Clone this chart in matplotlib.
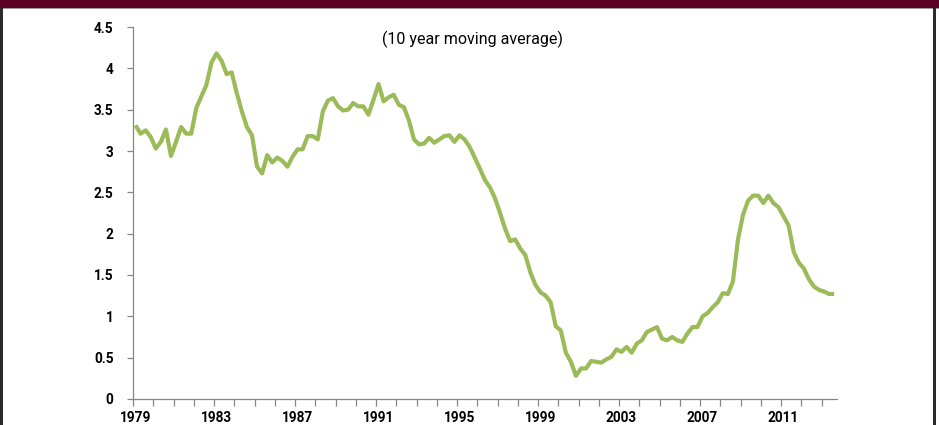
import matplotlib
matplotlib.use("Agg")
import matplotlib.pyplot as plt
from matplotlib.patches import Rectangle
import numpy as np

# Quarterly values, 1979Q1 .. 2013Q3 (10 year moving average)
values = [
    3.31, 3.21, 3.25, 3.17, 3.03, 3.11, 3.26, 2.94, 3.11, 3.29,
    3.21, 3.21, 3.52, 3.66, 3.80, 4.07, 4.18, 4.09, 3.93, 3.95,
    3.70, 3.48, 3.29, 3.19, 2.81, 2.73, 2.95, 2.86, 2.92, 2.88,
    2.81, 2.93, 3.02, 3.02, 3.18, 3.18, 3.14, 3.48, 3.61, 3.64,
    3.54, 3.49, 3.50, 3.58, 3.54, 3.54, 3.44, 3.62, 3.81, 3.60,
    3.65, 3.68, 3.56, 3.53, 3.37, 3.14, 3.08, 3.09, 3.16, 3.10,
    3.14, 3.18, 3.19, 3.11, 3.19, 3.14, 3.05, 2.92, 2.79, 2.65,
    2.56, 2.43, 2.25, 2.06, 1.91, 1.93, 1.82, 1.74, 1.53, 1.38,
    1.29, 1.25, 1.17, 0.88, 0.83, 0.56, 0.45, 0.28, 0.37, 0.37,
    0.46, 0.45, 0.44, 0.48, 0.51, 0.60, 0.57, 0.63, 0.56, 0.67,
    0.71, 0.81, 0.84, 0.87, 0.73, 0.71, 0.75, 0.71, 0.69, 0.79,
    0.87, 0.87, 1.00, 1.04, 1.11, 1.17, 1.28, 1.27, 1.42, 1.93,
    2.23, 2.40, 2.46, 2.46, 2.37, 2.46, 2.37, 2.32, 2.21, 2.10,
    1.78, 1.65, 1.58, 1.45, 1.36, 1.32, 1.30, 1.27, 1.27,
]
start_year = 1979
label_years = [1979, 1983, 1987, 1991, 1995, 1999, 2003, 2007, 2011]
y_ticks = [0, 0.5, 1, 1.5, 2, 2.5, 3, 3.5, 4, 4.5]
y_tick_labels = ["0", "0.5", "1", "1.5", "2", "2.5", "3", "3.5", "4", "4.5"]
subtitle = "(10 year moving average)"

W, H = 939, 425
fig = plt.figure(figsize=(W / 100, H / 100), dpi=100)
fig.patch.set_facecolor("white")

# frame decorations
fig.add_artist(Rectangle((0, 1 - 8 / H), 1, 8 / H, transform=fig.transFigure,
                         facecolor="#5C0022", edgecolor="none"))
fig.add_artist(Rectangle((0, 1 - 9 / H), 1, 1 / H, transform=fig.transFigure,
                         facecolor="#9a9a9a", edgecolor="none"))
fig.add_artist(Rectangle((0, 0), 2.5 / W, 1 - 8 / H, transform=fig.transFigure,
                         facecolor="#2b2b2b", edgecolor="none"))
fig.add_artist(Rectangle((933 / W, 0), 2.5 / W, 1 - 8 / H, transform=fig.transFigure,
                         facecolor="#2b2b2b", edgecolor="none"))

left, right = 133 / W, 836.7 / W
bottom, top = 1 - 399 / H, 1 - 27 / H
ax = fig.add_axes([left, bottom, right - left, top - bottom])

n = len(values)
x = np.arange(n) + 0.5
ax.plot(x, values, color="#9BBB59", lw=3.0, solid_joinstyle="round",
        solid_capstyle="butt")

ax.set_xlim(0, n)
ax.set_ylim(0, 4.5)

for s in ["top", "right"]:
    ax.spines[s].set_visible(False)
for s in ["left", "bottom"]:
    ax.spines[s].set_color("#868686")
    ax.spines[s].set_linewidth(0.9)

tick_font = dict(family=["Roboto", "DejaVu Sans"], weight="bold", size=9.8)

ax.set_yticks(y_ticks)
ax.set_yticklabels(y_tick_labels, **tick_font)
ax.tick_params(axis="y", which="major", direction="out", length=4,
               width=0.9, color="#868686", pad=10, labelcolor="black")

# year ticks every 4 quarters, labels every 16 quarters
ax.set_xticks(np.arange(0, n, 4), minor=True)
ax.set_xticks([(y - start_year) * 4 + 0.5 for y in label_years])
ax.set_xticklabels([str(y) for y in label_years], **tick_font)
ax.tick_params(axis="x", which="minor", direction="out", length=5,
               width=0.9, color="#868686")
ax.tick_params(axis="x", which="major", length=0, pad=9, labelcolor="black")

fig.text(472 / W, 1 - 39 / H, subtitle, ha="center", va="center",
         family=["Roboto", "DejaVu Sans"], size=11.5, color="black")

fig.savefig("out.png", dpi=100, facecolor="white")
